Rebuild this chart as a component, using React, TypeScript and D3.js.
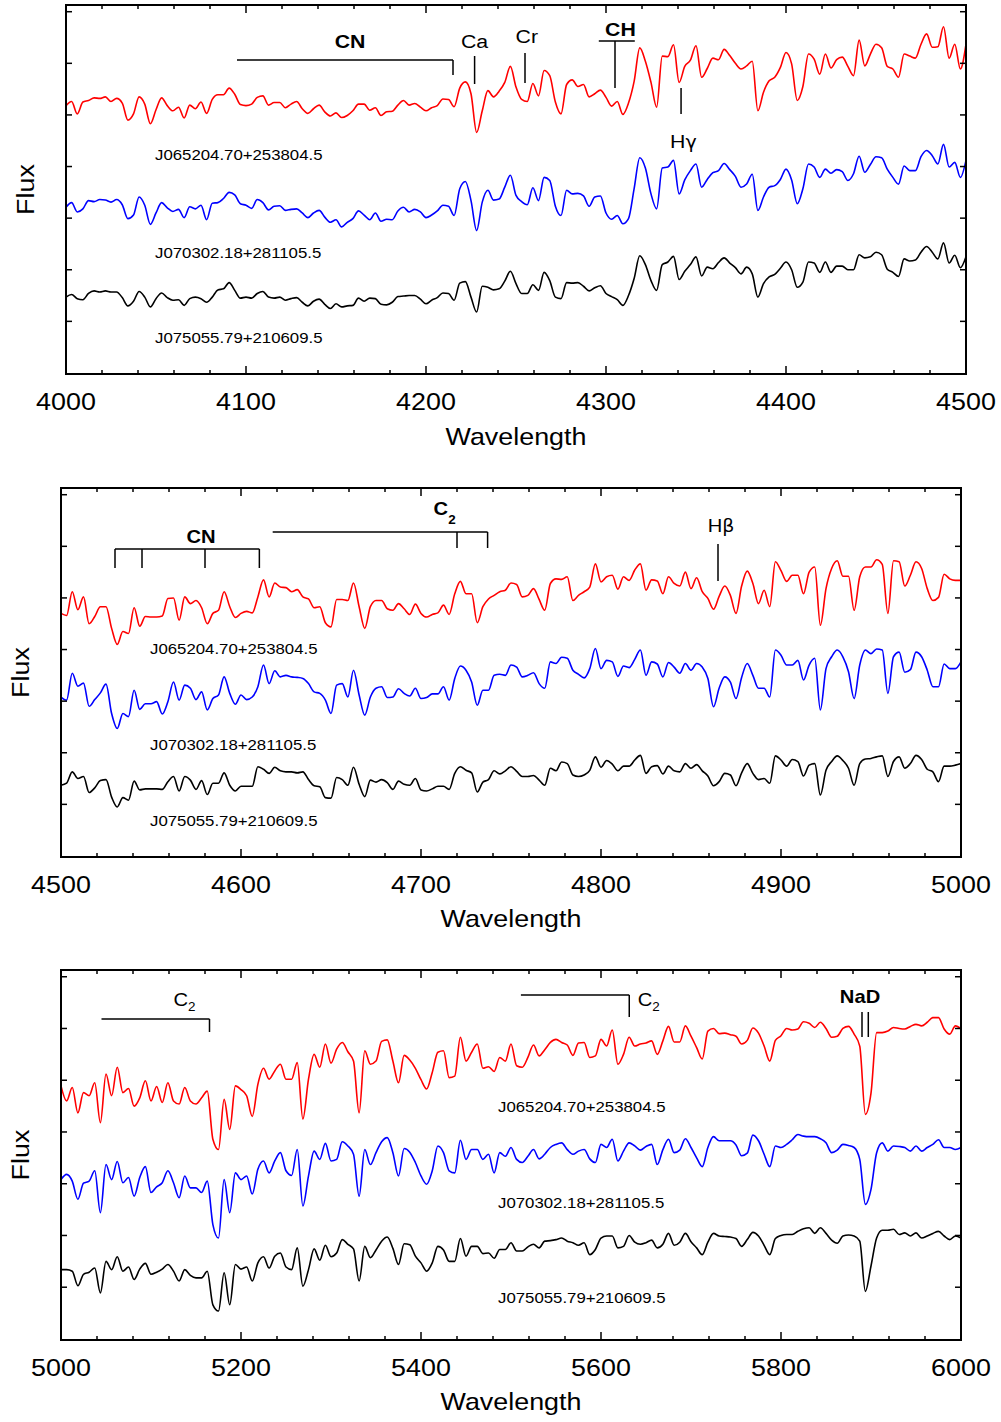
import React from "react";
import * as d3 from "d3";

// ---------- data ----------
const N_POINTS = 161;
const STAR_NAMES = ["J065204.70+253804.5", "J070302.18+281105.5", "J075055.79+210609.5"];
const COLORS = ["#ff0000", "#0000ff", "#000000"];

// Panel 1: 4000-4500 A, step 3.125 A
const P1_RED = [5.18,5.26,5.02,5.25,5.28,5.33,5.32,5.35,5.26,5.32,5.23,4.90,5.02,5.35,5.21,4.83,5.10,5.33,5.18,5.08,5.15,4.94,5.19,5.12,5.25,5.03,5.30,5.39,5.39,5.52,5.40,5.20,5.18,5.21,5.34,5.37,5.19,5.24,5.24,5.14,5.21,5.26,5.12,5.03,5.12,5.19,5.06,4.98,5.04,4.95,4.99,5.08,5.21,5.21,
5.09,5.14,4.99,5.06,5.07,5.19,5.28,5.19,5.22,5.15,5.08,5.14,5.18,5.31,5.30,5.16,5.52,5.64,5.41,4.66,5.08,5.47,5.35,5.46,5.63,5.94,5.54,5.30,5.26,5.61,5.37,5.86,5.76,5.25,5.02,5.59,5.68,5.55,5.59,5.35,5.41,5.48,5.34,5.17,5.26,5.01,5.23,5.65,6.30,6.04,5.63,5.15,6.14,
6.13,6.36,5.63,5.94,6.06,6.34,5.73,5.90,6.10,6.07,6.27,6.15,6.00,5.89,5.95,6.04,5.08,5.44,5.66,5.73,5.92,6.21,5.99,5.28,5.55,6.18,6.08,5.79,6.18,5.91,6.07,6.12,5.94,5.76,6.45,5.95,6.18,6.37,6.30,5.94,5.89,5.73,6.18,6.14,6.10,6.37,6.57,6.31,6.32,6.71,6.10,6.37,5.89,6.37];
const P1_BLUE = [3.21,3.30,3.12,3.18,3.34,3.32,3.36,3.35,3.31,3.36,3.26,2.99,3.06,3.41,3.25,2.88,3.10,3.30,3.20,3.13,3.17,3.01,3.22,3.18,3.25,2.97,3.29,3.30,3.38,3.50,3.45,3.28,3.25,3.19,3.36,3.30,3.16,3.23,3.24,3.15,3.17,3.18,3.10,3.01,3.10,3.15,3.02,2.92,2.97,2.83,2.92,2.99,3.14,3.06,
2.97,3.10,2.94,2.98,2.97,3.14,3.21,3.12,3.17,3.12,3.01,3.06,3.14,3.25,3.23,3.05,3.57,3.71,3.34,2.76,3.31,3.54,3.35,3.37,3.60,3.83,3.44,3.32,3.26,3.59,3.34,3.79,3.73,3.23,3.05,3.54,3.47,3.48,3.43,3.23,3.41,3.43,3.10,2.98,3.05,2.89,2.99,3.57,4.17,3.97,3.47,3.18,3.97,
3.99,4.12,3.47,3.74,3.92,4.05,3.60,3.75,3.88,3.92,4.06,3.94,3.81,3.60,3.66,3.85,3.15,3.41,3.60,3.63,3.75,3.95,3.74,3.28,3.57,4.05,3.99,3.79,3.95,3.87,3.94,3.90,3.73,3.86,4.20,3.89,4.04,4.19,4.17,3.95,3.79,3.66,4.01,3.92,3.92,4.19,4.31,4.21,4.05,4.43,3.99,4.08,3.79,4.12];
const P1_BLACK = [1.47,1.52,1.44,1.42,1.54,1.59,1.57,1.59,1.57,1.57,1.46,1.30,1.39,1.58,1.47,1.28,1.44,1.55,1.46,1.41,1.42,1.31,1.44,1.47,1.44,1.37,1.47,1.61,1.63,1.75,1.60,1.45,1.47,1.45,1.54,1.58,1.47,1.45,1.47,1.41,1.44,1.46,1.37,1.30,1.39,1.43,1.33,1.25,1.34,1.28,1.30,1.31,1.45,1.39,
1.45,1.44,1.33,1.32,1.37,1.48,1.49,1.50,1.50,1.43,1.34,1.41,1.46,1.55,1.54,1.41,1.74,1.77,1.47,1.18,1.68,1.66,1.61,1.63,1.78,1.97,1.73,1.54,1.54,1.71,1.60,1.95,1.79,1.47,1.44,1.75,1.74,1.75,1.68,1.59,1.65,1.69,1.54,1.48,1.42,1.31,1.50,1.83,2.27,2.10,1.79,1.60,2.10,
2.15,2.26,1.81,1.97,2.10,2.25,1.88,2.05,2.02,2.14,2.23,2.13,2.04,1.92,2.05,1.92,1.47,1.73,1.86,1.91,2.03,2.15,2.00,1.66,1.76,2.15,2.13,1.95,2.15,1.95,2.07,2.07,2.00,2.00,2.29,2.23,2.25,2.34,2.29,2.01,1.95,1.87,2.21,2.17,2.19,2.34,2.45,2.34,2.21,2.52,2.13,2.28,2.04,2.25];

// Panel 2: 4500-5000 A, step 3.125 A
const P2_RED = [4.70,4.66,5.12,4.77,5.02,4.50,4.64,4.83,4.83,4.41,4.10,4.35,4.31,4.81,4.45,4.64,4.63,4.63,4.65,4.99,5.00,4.57,5.02,4.89,4.95,4.81,4.50,4.70,4.76,5.12,4.83,4.62,4.70,4.74,4.71,5.02,5.35,5.02,5.29,5.21,5.20,5.12,5.16,5.02,4.98,4.81,4.83,4.52,4.44,4.97,4.97,4.95,5.29,4.83,
4.41,4.83,4.95,4.95,4.79,4.76,4.89,4.79,4.68,4.88,4.70,4.63,4.68,4.71,4.86,4.68,5.08,5.32,5.08,5.08,4.52,4.83,4.98,5.05,5.12,5.15,5.29,5.26,5.02,5.05,5.18,4.97,4.76,5.28,5.37,5.36,5.41,4.95,5.05,5.12,5.21,5.66,5.31,5.41,5.44,5.17,5.41,5.34,5.54,5.66,5.15,5.35,5.33,
5.08,5.41,5.28,5.23,5.50,5.18,5.39,5.12,4.99,4.78,5.03,5.23,5.05,4.70,5.23,5.52,5.28,4.89,5.15,4.83,5.70,5.53,5.32,5.44,5.44,5.08,5.50,5.60,4.47,5.18,5.57,5.72,5.42,5.42,4.76,5.41,5.60,5.60,5.74,5.65,4.70,5.72,5.70,5.23,5.44,5.70,5.57,5.18,4.95,5.01,5.46,5.37,5.34,5.34];
const P2_BLUE = [3.08,3.02,3.54,3.29,3.35,2.90,3.03,3.16,3.33,2.76,2.47,2.76,2.70,3.21,2.84,2.95,2.95,2.99,2.75,2.99,3.37,3.02,3.31,3.25,3.03,3.18,2.83,3.05,3.12,3.47,3.15,2.94,3.12,3.03,3.08,3.28,3.70,3.34,3.59,3.47,3.50,3.47,3.46,3.44,3.34,3.18,3.15,3.02,2.76,3.31,3.34,3.08,3.60,3.12,
2.73,3.08,3.25,3.28,3.07,3.08,3.24,3.15,3.10,3.25,3.05,3.07,3.14,3.14,3.28,3.02,3.44,3.68,3.60,3.37,2.92,3.21,3.21,3.50,3.52,3.50,3.70,3.66,3.47,3.50,3.55,3.34,3.25,3.76,3.73,3.85,3.83,3.60,3.52,3.45,3.63,4.02,3.63,3.79,3.76,3.48,3.68,3.65,3.81,3.99,3.50,3.76,3.72,
3.47,3.75,3.66,3.54,3.73,3.60,3.73,3.66,3.44,2.89,3.25,3.47,3.37,3.05,3.46,3.73,3.50,3.25,3.25,3.08,3.99,3.89,3.70,3.70,3.79,3.41,3.70,3.83,2.83,3.63,3.86,3.99,3.86,3.57,3.05,3.70,3.99,3.92,4.01,3.99,3.15,3.86,3.95,3.56,3.61,3.95,3.86,3.60,3.28,3.28,3.72,3.63,3.63,3.76];
const P2_BLACK = [1.37,1.41,1.63,1.50,1.54,1.23,1.32,1.46,1.48,1.14,0.95,1.13,1.08,1.45,1.28,1.30,1.30,1.30,1.29,1.44,1.54,1.26,1.54,1.47,1.29,1.46,1.19,1.41,1.41,1.61,1.37,1.26,1.35,1.35,1.35,1.73,1.68,1.60,1.72,1.65,1.63,1.63,1.61,1.63,1.48,1.36,1.34,1.13,1.12,1.52,1.48,1.37,1.72,1.39,
1.15,1.47,1.43,1.48,1.42,1.29,1.45,1.39,1.37,1.50,1.28,1.26,1.30,1.35,1.35,1.29,1.60,1.73,1.66,1.61,1.24,1.43,1.48,1.65,1.59,1.65,1.73,1.64,1.54,1.54,1.56,1.47,1.37,1.70,1.65,1.82,1.79,1.57,1.54,1.57,1.66,1.92,1.72,1.85,1.78,1.65,1.74,1.74,1.86,1.95,1.60,1.73,1.75,
1.59,1.74,1.65,1.63,1.79,1.70,1.77,1.65,1.55,1.36,1.44,1.60,1.57,1.36,1.61,1.79,1.60,1.48,1.50,1.41,1.94,1.86,1.74,1.87,1.83,1.55,1.76,1.79,1.18,1.66,1.83,1.94,1.85,1.70,1.37,1.79,1.88,1.89,1.92,1.94,1.54,1.83,1.92,1.70,1.79,1.95,1.87,1.68,1.63,1.44,1.74,1.74,1.76,1.79];

// Panel 3: 5000-6000 A, step 6.25 A
const P3_RED = [4.89,4.60,4.86,4.37,4.76,4.70,4.95,4.18,5.12,4.70,5.25,4.76,4.84,4.50,4.66,4.99,4.60,4.88,4.57,4.95,4.60,4.54,4.86,4.60,4.54,4.66,4.79,3.86,3.66,4.63,4.05,4.89,4.82,4.70,4.30,4.92,5.23,5.02,5.18,5.31,5.02,5.02,5.34,4.25,5.02,5.50,5.25,5.70,5.33,5.60,5.73,5.55,5.37,4.37,
5.57,5.31,5.37,5.75,5.78,5.37,4.95,5.48,5.39,5.23,5.01,4.83,5.15,5.54,5.57,5.05,5.08,5.83,5.37,5.54,5.70,5.23,5.26,5.17,5.44,5.37,5.70,5.28,5.25,5.44,5.68,5.47,5.59,5.73,5.79,5.73,5.68,5.48,5.72,5.73,5.44,5.47,5.79,5.66,5.97,5.31,5.50,5.83,5.66,5.70,5.72,5.76,5.50,
5.76,6.04,5.74,5.74,6.05,5.85,5.63,5.41,5.95,6.00,5.90,5.91,5.88,5.85,5.70,5.77,6.01,5.91,5.66,5.37,5.77,5.86,6.00,5.97,5.99,6.13,6.10,6.02,6.12,6.00,5.83,5.85,6.00,6.04,5.89,5.66,4.34,4.75,5.92,5.92,5.95,6.02,6.00,5.99,6.04,6.08,6.05,6.12,6.21,6.21,5.99,5.89,6.05,5.99];
const P3_BLUE = [3.08,3.18,3.05,2.70,3.01,3.05,3.25,2.44,3.37,3.08,3.43,3.02,3.12,2.76,3.12,3.33,2.83,2.94,3.02,3.25,3.02,2.73,3.15,2.92,2.92,2.83,3.05,2.21,1.95,3.08,2.44,3.21,3.08,3.15,2.80,3.28,3.44,3.21,3.44,3.60,3.25,3.16,3.66,2.57,3.15,3.63,3.47,3.78,3.44,3.47,3.81,3.73,3.57,2.76,
3.66,3.37,3.60,3.81,3.89,3.60,3.15,3.68,3.61,3.41,3.15,2.99,3.25,3.73,3.60,3.25,3.21,3.84,3.47,3.66,3.66,3.47,3.57,3.21,3.60,3.53,3.70,3.47,3.41,3.53,3.66,3.48,3.57,3.70,3.76,3.79,3.66,3.57,3.63,3.66,3.48,3.41,3.76,3.70,3.86,3.44,3.63,3.79,3.73,3.65,3.72,3.76,3.37,
3.66,3.86,3.60,3.65,3.87,3.70,3.50,3.33,3.70,3.91,3.83,3.83,3.83,3.75,3.54,3.59,3.94,3.83,3.57,3.33,3.73,3.70,3.76,3.85,3.95,3.92,3.91,3.91,3.87,3.79,3.60,3.65,3.76,3.74,3.70,3.47,2.60,2.89,3.60,3.79,3.63,3.73,3.72,3.70,3.63,3.73,3.63,3.70,3.76,3.85,3.70,3.70,3.66,3.70];
const P3_BLACK = [1.34,1.34,1.31,1.03,1.25,1.29,1.37,0.89,1.50,1.34,1.59,1.31,1.39,1.15,1.35,1.46,1.25,1.29,1.35,1.44,1.31,1.12,1.34,1.23,1.18,1.18,1.31,0.66,0.54,1.28,0.66,1.44,1.35,1.39,1.12,1.47,1.59,1.37,1.60,1.66,1.39,1.34,1.76,1.02,1.34,1.74,1.52,1.81,1.59,1.66,1.92,1.83,1.74,1.12,
1.79,1.57,1.72,1.89,1.97,1.75,1.44,1.84,1.82,1.60,1.47,1.31,1.47,1.79,1.72,1.50,1.50,1.94,1.60,1.79,1.79,1.65,1.66,1.56,1.73,1.73,1.86,1.70,1.70,1.78,1.83,1.76,1.89,1.90,1.92,1.95,1.89,1.86,1.81,1.86,1.63,1.73,1.95,1.99,1.99,1.76,1.79,2.00,1.87,1.83,1.86,1.91,1.76,
1.83,2.04,1.81,1.87,2.04,1.88,1.76,1.63,1.87,2.04,1.99,1.98,1.97,1.94,1.79,1.92,2.06,1.99,1.81,1.63,1.94,2.00,2.02,2.02,2.08,2.13,2.15,2.04,2.15,2.04,1.91,1.85,1.99,2.01,1.99,1.89,0.92,1.41,1.95,2.10,2.10,2.12,2.02,2.05,1.99,2.05,1.95,1.99,2.04,2.08,1.99,1.92,1.99,1.95];

const Y_TICKS = [1, 2, 3, 4, 5, 6, 7];

// ---------- layout ----------
const FONT = "'Liberation Sans', Arial, Helvetica, sans-serif";
const GREEK_FONT = "'DejaVu Sans', 'Noto Sans', sans-serif";
const SX = 1.12; // horizontal stretch of glyphs in the reference

type Panel = {
  x0: number; x1: number; step: number; major: number; minor: number;
  left: number; top: number; width: number; height: number;
  series: number[][];
  labelX: number; labelY: number[];
  tickLabelY: number; titleY: number; fluxX: number;
};

const PANELS: Panel[] = [
  { x0: 4000, x1: 4500, step: 3.125, major: 100, minor: 20, left: 66, top: 5, width: 900, height: 369,
    series: [P1_RED, P1_BLUE, P1_BLACK], labelX: 155, labelY: [160, 258, 343], tickLabelY: 410, titleY: 445, fluxX: 34 },
  { x0: 4500, x1: 5000, step: 3.125, major: 100, minor: 20, left: 61, top: 488, width: 900, height: 369,
    series: [P2_RED, P2_BLUE, P2_BLACK], labelX: 150, labelY: [654, 750, 826], tickLabelY: 893, titleY: 927, fluxX: 29 },
  { x0: 5000, x1: 6000, step: 6.25, major: 200, minor: 40, left: 61, top: 970, width: 900, height: 370,
    series: [P3_RED, P3_BLUE, P3_BLACK], labelX: 498, labelY: [1112, 1208, 1303], tickLabelY: 1376, titleY: 1410, fluxX: 29 },
];

function T(props: { x: number; y: number; size: number; anchor?: string; weight?: string; rotate?: number; children: React.ReactNode }) {
  const { x, y, size, anchor = "start", weight = "normal", rotate, children } = props;
  return (
    <text transform={`translate(${x},${y})${rotate ? ` rotate(${rotate})` : ""} scale(${SX},1)`}
      fontSize={size} textAnchor={anchor} fontWeight={weight} fontFamily={FONT} fill="#000">
      {children}
    </text>
  );
}

function PanelView({ p, idx }: { p: Panel; idx: number }) {
  const xs = d3.scaleLinear().domain([p.x0, p.x1]).range([p.left, p.left + p.width]);
  const ys = d3.scaleLinear().domain([-0.02, 7.13]).range([p.top + p.height, p.top]);
  const grid = d3.range(N_POINTS).map((i) => p.x0 + i * p.step);
  const line = d3.line<[number, number]>().x((d) => xs(d[0])).y((d) => ys(d[1])).curve(d3.curveMonotoneX);
  const bottom = p.top + p.height;
  const right = p.left + p.width;
  const majorTicks = d3.range(p.x0, p.x1 + 0.001, p.major);
  const minorTicks = d3.range(p.x0, p.x1 + 0.001, p.minor).filter((v) => majorTicks.every((m) => Math.abs(m - v) > 1e-6));

  const vline = (lam: number, y1: number, y2: number, key: string) => (
    <line key={key} x1={xs(lam)} x2={xs(lam)} y1={y1} y2={y2} stroke="#000" strokeWidth={1.5} />
  );
  const hline = (l1: number, l2: number, y: number, key: string) => (
    <line key={key} x1={xs(l1)} x2={xs(l2)} y1={y} y2={y} stroke="#000" strokeWidth={1.5} />
  );

  let ann: React.ReactNode = null;
  if (idx === 0) {
    ann = (
      <g>
        {hline(4095, 4215, 60, "cnh")}
        {vline(4215, 60, 75, "cnv")}
        <T x={xs(4157.8)} y={48} size={19} anchor="middle" weight="bold">CN</T>
        {vline(4227, 56, 84, "ca")}
        <T x={xs(4227)} y={48} size={19} anchor="middle">Ca</T>
        {vline(4255, 53, 83, "cr")}
        <T x={xs(4256)} y={43} size={19} anchor="middle">Cr</T>
        {hline(4296, 4316, 41, "chh")}
        {vline(4305, 41, 88, "chv")}
        <T x={xs(4308)} y={36} size={19} anchor="middle" weight="bold">CH</T>
        {vline(4341.7, 88, 114, "hg")}
        <T x={xs(4343)} y={148} size={19} anchor="middle">H<tspan fontFamily={GREEK_FONT} fontSize={17}>γ</tspan></T>
      </g>
    );
  } else if (idx === 1) {
    ann = (
      <g>
        {hline(4530, 4610.2, 549, "cnh")}
        {[4530, 4545, 4580, 4610.2].map((l, i) => vline(l, 549, 568, "cnv" + i))}
        <T x={xs(4577.8)} y={543} size={18} anchor="middle" weight="bold">CN</T>
        {hline(4617.6, 4737, 532, "c2h")}
        {vline(4720, 532, 548, "c2v1")}
        {vline(4737, 532, 548, "c2v2")}
        <T x={xs(4707)} y={515} size={18} weight="bold">C<tspan fontSize={12} dy={9}>2</tspan></T>
        {vline(4865, 544, 581, "hb")}
        <T x={xs(4866.7)} y={532} size={18} anchor="middle">H<tspan fontFamily={GREEK_FONT} fontSize={17}>β</tspan></T>
      </g>
    );
  } else {
    ann = (
      <g>
        {hline(5045, 5165, 1019, "c2ah")}
        {vline(5165, 1019, 1032, "c2av")}
        <T x={xs(5125)} y={1006} size={18}>C<tspan fontSize={12} dy={5}>2</tspan></T>
        {hline(5511, 5631.4, 995, "c2bh")}
        {vline(5631.4, 995, 1017, "c2bv")}
        <T x={xs(5640.8)} y={1006} size={18}>C<tspan fontSize={12} dy={5}>2</tspan></T>
        {vline(5890, 1012, 1037, "na1")}
        {vline(5897, 1012, 1037, "na2")}
        <T x={xs(5887.8)} y={1003} size={18} anchor="middle" weight="bold">NaD</T>
      </g>
    );
  }

  return (
    <g>
      {p.series.map((vals, si) => (
        <path key={si} d={line(grid.map((g, i) => [g, vals[i]] as [number, number])) || ""}
          fill="none" stroke={COLORS[si]} strokeWidth={1.6} strokeLinejoin="round" />
      ))}
      {STAR_NAMES.map((n, i) => (
        <T key={n} x={p.labelX} y={p.labelY[i]} size={15}>{n}</T>
      ))}
      {ann}
      {majorTicks.map((v) => (
        <g key={"M" + v}>
          <line x1={xs(v)} x2={xs(v)} y1={bottom} y2={bottom - 8} stroke="#000" strokeWidth={1.5} />
          <line x1={xs(v)} x2={xs(v)} y1={p.top} y2={p.top + 8} stroke="#000" strokeWidth={1.5} />
          <T x={xs(v)} y={p.tickLabelY} size={24} anchor="middle">{String(v)}</T>
        </g>
      ))}
      {minorTicks.map((v) => (
        <g key={"m" + v}>
          <line x1={xs(v)} x2={xs(v)} y1={bottom} y2={bottom - 4} stroke="#000" strokeWidth={1.5} />
          <line x1={xs(v)} x2={xs(v)} y1={p.top} y2={p.top + 4} stroke="#000" strokeWidth={1.5} />
        </g>
      ))}
      {Y_TICKS.map((v) => (
        <g key={"y" + v}>
          <line x1={p.left} x2={p.left + 6} y1={ys(v)} y2={ys(v)} stroke="#000" strokeWidth={1.5} />
          <line x1={right} x2={right - 6} y1={ys(v)} y2={ys(v)} stroke="#000" strokeWidth={1.5} />
        </g>
      ))}
      <rect x={p.left} y={p.top} width={p.width} height={p.height} fill="none" stroke="#000" strokeWidth={2} />
      <T x={p.left + p.width / 2} y={p.titleY} size={24} anchor="middle">Wavelength</T>
      <T x={p.fluxX} y={p.top + p.height / 2} size={24} anchor="middle" rotate={-90}>Flux</T>
    </g>
  );
}

export default function App() {
  return (
    <div style={{ position: "absolute", left: 0, top: 0, width: 1001, height: 1422, background: "#fff" }}>
      <svg width={1001} height={1422} viewBox="0 0 1001 1422" style={{ display: "block" }}>
        <rect x={0} y={0} width={1001} height={1422} fill="#fff" />
        {PANELS.map((p, i) => (
          <PanelView key={i} p={p} idx={i} />
        ))}
      </svg>
    </div>
  );
}
